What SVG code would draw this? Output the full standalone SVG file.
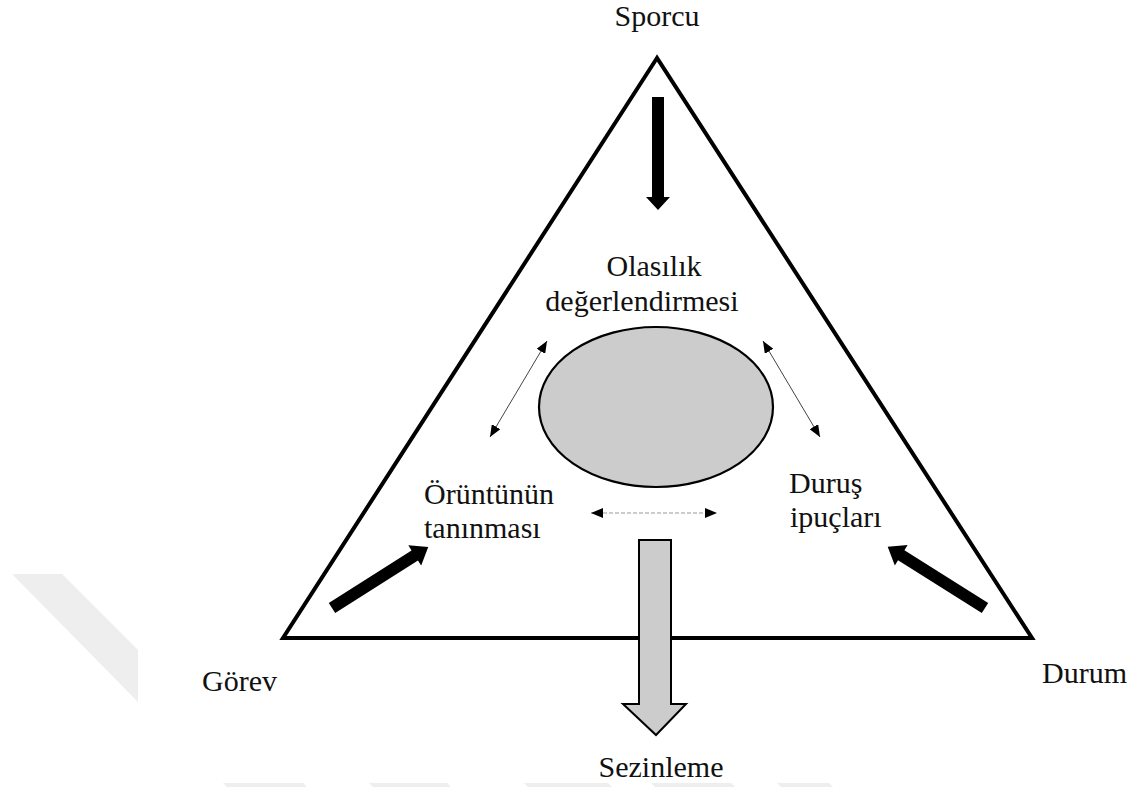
<svg xmlns="http://www.w3.org/2000/svg" width="1142" height="787" viewBox="0 0 1142 787">
<style>
  .lbl { font-family: "Liberation Serif", "Times New Roman", serif; font-size: 30px; fill: #111; }
  .wm { fill: #eeeeee; stroke: none; }
  .thick { fill: #000; stroke: none; }
  .thin { stroke: #444; stroke-width: 1; fill: none; }
  .dash { stroke: #999; stroke-width: 1.2; fill: none; stroke-dasharray: 4 2; }
</style>
<defs>
  <marker id="tri" viewBox="0 0 12 10" refX="12" refY="5" markerWidth="12" markerHeight="10" markerUnits="userSpaceOnUse" orient="auto-start-reverse">
    <path d="M0,0 L12,5 L0,10 Z" fill="#000"/>
  </marker>
</defs>
<rect width="1142" height="787" fill="#fff"/>
<g id="watermark">
  <polygon class="wm" points="12,574 62,574 138,650 138,702"/>
  <polygon class="wm" points="223,783 303,783 307,787 227,787"/>
  <polygon class="wm" points="369,783 447,783 451,787 373,787"/>
  <polygon class="wm" points="524,783 608,783 612,787 528,787"/>
  <polygon class="wm" points="651,783 731,783 735,787 655,787"/>
  <polygon class="wm" points="777,783 829,783 833,787 781,787"/>
</g>
<g id="triangle">
  <polygon points="657,58 283,638 1032,638" fill="none" stroke="#000" stroke-width="4" stroke-linejoin="miter"/>
</g>
<g id="ellipse">
  <ellipse cx="656" cy="407" rx="117" ry="80" fill="#cccccc" stroke="#000" stroke-width="2.2"/>
</g>
<g id="connectors">
  <polygon class="thick" points="652,97 664,97 664,197 670,197 658,210 646,197 652,197"/>
  <path class="thick" transform="translate(332,608) rotate(-32.4)" d="M0,-6 L98,-6 L98,-12 L114,0 L98,12 L98,6 L0,6 Z"/>
  <path class="thick" transform="translate(985,608) rotate(-147.8)" d="M0,-6 L99,-6 L99,-12 L115,0 L99,12 L99,6 L0,6 Z"/>
  <line class="thin" x1="547" y1="341" x2="490" y2="437" marker-start="url(#tri)" marker-end="url(#tri)"/>
  <line class="thin" x1="763" y1="341" x2="820" y2="437" marker-start="url(#tri)" marker-end="url(#tri)"/>
  <line class="dash" x1="591" y1="513" x2="717" y2="513" marker-start="url(#tri)" marker-end="url(#tri)"/>
  <polygon points="639,540 671,540 671,704 686,704 656,735 623,704 639,704" fill="#cccccc" stroke="#000" stroke-width="2" stroke-linejoin="miter"/>
</g>
<g id="labels">
  <text class="lbl" x="657" y="26" text-anchor="middle">Sporcu</text>
  <text class="lbl" x="654" y="276" text-anchor="middle">Olasılık</text>
  <text class="lbl" x="642" y="311" text-anchor="middle">değerlendirmesi</text>
  <text class="lbl" x="424" y="504">Örüntünün</text>
  <text class="lbl" x="424" y="538">tanınması</text>
  <text class="lbl" x="789" y="493">Duruş</text>
  <text class="lbl" x="790" y="527">ipuçları</text>
  <text class="lbl" x="202" y="691">Görev</text>
  <text class="lbl" x="1042" y="683">Durum</text>
  <text class="lbl" x="661" y="777" text-anchor="middle">Sezinleme</text>
</g>
</svg>
